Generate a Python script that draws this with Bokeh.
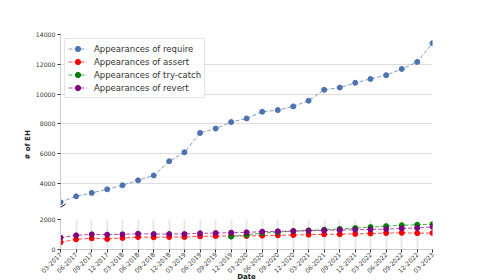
import numpy as np
import pandas as pd
from math import pi
from bokeh.plotting import figure
from bokeh.layouts import column
from bokeh.models import (Range1d, FixedTicker, DatetimeTickFormatter, Title, Arrow,
                          Legend, LegendItem, ColumnDataSource)
from bokeh.embed import file_html
from bokeh.resources import INLINE

dates = ["03-2017", "06-2017", "09-2017", "12-2017", "03-2018", "06-2018", "09-2018",
         "12-2018", "03-2019", "06-2019", "09-2019", "12-2019", "03-2020", "06-2020",
         "09-2020", "12-2020", "03-2021", "06-2021", "09-2021", "12-2021", "03-2022",
         "06-2022", "09-2022", "12-2022", "03-2023"]
require = [2750, 3150, 3380, 3620, 3890, 4220, 4550, 5500, 6100, 7400, 7690, 8130, 8370,
           8820, 8930, 9180, 9560, 10290, 10440, 10760, 11020, 11270, 11690, 12160, 13420]
assert_ = [480, 680, 746, 700, 766, 832, 812, 832, 832, 878, 898, 900, 905, 924, 944, 964,
           990, 1010, 1020, 1040, 1065, 1096, 1110, 1090, 1096]
try_catch = [np.nan] * 11 + [860, 975, 1095, 1160, 1220, 1274, 1320, 1370, 1426, 1492,
                             1558, 1615, 1650, 1690]
revert = [792, 944, 1010, 990, 1010, 1056, 1030, 1030, 1030, 1076, 1096, 1122, 1142, 1190,
          1210, 1230, 1250, 1274, 1294, 1320, 1340, 1360, 1406, 1430, 1510]

series = [("Appearances of require", require, "#4c72b0"),
          ("Appearances of assert", assert_, "#ff0000"),
          ("Appearances of try-catch", try_catch, "#008000"),
          ("Appearances of revert", revert, "#800080")]

top_ticks = [4000, 6000, 8000, 10000, 12000, 14000]
bottom_ticks = [0, 2000]
top_range = (2400, 14000)
bottom_range = (0, 2000)

x = pd.to_datetime(dates, format="%m-%Y")
x_ms = [t.timestamp() * 1000 for t in x]

FONT = "DejaVu Sans"
FW = 372
TOP_FH = 173
BOT_FH = 30


def make_fig(yr, ticks, fh, top_b, bot_b):
    p = figure(width=None, height=None, frame_width=FW, frame_height=fh,
               x_axis_type="datetime", output_backend="svg", toolbar_location=None,
               x_range=Range1d(x[0], x[-1]), y_range=Range1d(*yr),
               min_border_left=60, min_border_right=40,
               min_border_top=top_b, min_border_bottom=bot_b)
    p.outline_line_color = None
    p.background_fill_color = "white"
    p.border_fill_color = "white"
    p.yaxis.ticker = FixedTicker(ticks=ticks)
    p.yaxis.major_label_text_font = FONT
    p.yaxis.major_label_text_font_size = "6.2px"
    p.yaxis.major_label_text_color = "#333333"
    p.yaxis.axis_line_color = "#cccccc"
    p.yaxis.major_tick_line_color = "#333333"
    p.yaxis.major_tick_out = 3
    p.yaxis.major_tick_in = 0
    p.yaxis.minor_tick_line_color = None
    p.yaxis.major_label_standoff = 2
    p.ygrid.grid_line_color = "#dddddd"
    p.ygrid.grid_line_width = 1
    renderers = []
    for name, vals, col in series:
        src = ColumnDataSource(dict(x=x, y=vals))
        l = p.line("x", "y", source=src, line_color=col, line_dash="4 2",
                   line_width=1, line_alpha=0.7)
        s = p.scatter("x", "y", source=src, size=5, fill_color=col, line_color=col)
        renderers.append((name, l, s))
    return p, renderers


top, rends = make_fig(top_range, top_ticks, TOP_FH, 34, 6)
top.xaxis.visible = False
top.xgrid.visible = False

legend = Legend(items=[LegendItem(label=n, renderers=[l, s]) for n, l, s in rends],
                location="top_left")
legend.label_text_font = FONT
legend.label_text_font_size = "8.5px"
legend.label_text_color = "#333333"
legend.glyph_width = 19
legend.glyph_height = 13
legend.label_height = 13
legend.label_standoff = 7
legend.spacing = 0
legend.padding = 3
legend.margin = 4
legend.border_line_color = "#cccccc"
legend.background_fill_alpha = 0.85
top.add_layout(legend)

# y-axis title, placed so that it is centred on the whole (broken) chart
top.add_layout(Title(text="# of EH", align="left", offset=48, standoff=2,
                     text_font=FONT, text_font_size="7px", text_font_style="bold",
                     text_color="#222222"), "left")
top.add_layout(Arrow(end=None, start=None, x_start=-5, y_start=-3.5, x_end=5, y_end=3.5,
                     start_units="screen", end_units="screen", line_color="black",
                     line_width=1))

bot, _ = make_fig(bottom_range, bottom_ticks, BOT_FH, 6, 31)
bot.xaxis.ticker = FixedTicker(ticks=x_ms)
bot.xaxis.formatter = DatetimeTickFormatter(days="%m-%Y", months="%m-%Y", years="%m-%Y")
bot.xaxis.major_label_orientation = pi / 4
bot.xaxis.major_label_text_font = FONT
bot.xaxis.major_label_text_font_size = "6.2px"
bot.xaxis.major_label_text_color = "#333333"
bot.xaxis.major_label_standoff = 1
bot.xaxis.axis_line_color = "#cccccc"
bot.xaxis.major_tick_line_color = "#333333"
bot.xaxis.major_tick_out = 3
bot.xaxis.major_tick_in = 0
bot.xaxis.minor_tick_line_color = None
bot.xaxis.axis_label = "Date"
bot.xaxis.axis_label_text_font = FONT
bot.xaxis.axis_label_text_font_size = "7px"
bot.xaxis.axis_label_text_font_style = "bold"
bot.xaxis.axis_label_text_color = "#222222"
bot.xaxis.axis_label_standoff = -5
bot.xgrid.ticker = FixedTicker(ticks=x_ms)
bot.xgrid.grid_line_color = "#e8e8e8"
bot.xgrid.grid_line_width = 2
bot.add_layout(Arrow(end=None, start=None, x_start=-5, y_start=BOT_FH - 3.5, x_end=5,
                     y_end=BOT_FH + 3.5, start_units="screen", end_units="screen",
                     line_color="black", line_width=1))

layout = column(top, bot, spacing=0)
open("out.html", "w").write(file_html(layout, INLINE))
